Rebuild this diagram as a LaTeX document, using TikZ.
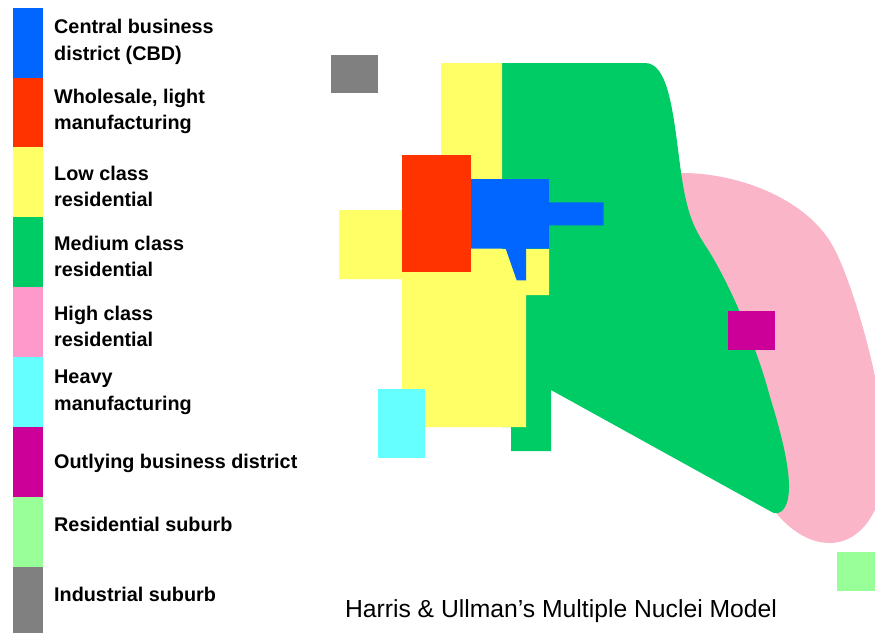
\documentclass[tikz,border=0pt]{standalone}
\usepackage{fontspec}
\setmainfont{Liberation Sans}
\definecolor{cbd}{HTML}{0066FF}
\definecolor{whl}{HTML}{FF3300}
\definecolor{low}{HTML}{FFFF66}
\definecolor{med}{HTML}{00CC66}
\definecolor{high}{HTML}{FF99CC}
\definecolor{highmap}{RGB}{250,182,200}
\definecolor{heavy}{HTML}{66FFFF}
\definecolor{obd}{HTML}{CC0099}
\definecolor{rsub}{HTML}{99FF99}
\definecolor{isub}{HTML}{808080}
\begin{document}
\begin{tikzpicture}[x=1pt,y=-1pt,
  leg/.style={anchor=base west,inner sep=0pt,font=\fontsize{19.8}{24}\selectfont\bfseries},
  ttl/.style={anchor=base,inner sep=0pt,font=\fontsize{24.7}{30}\selectfont}]
\useasboundingbox (0,0) rectangle (875,632);
\clip (0,0) rectangle (875,632);
% legend swatches
\fill[cbd]   (13,8)   rectangle (43,78);
\fill[whl]   (13,78)  rectangle (43,147);
\fill[low]   (13,147) rectangle (43,217);
\fill[med]   (13,217) rectangle (43,287);
\fill[high]  (13,287) rectangle (43,357);
\fill[heavy] (13,357) rectangle (43,427);
\fill[obd]   (13,427) rectangle (43,497);
\fill[rsub]  (13,497) rectangle (43,567);
\fill[isub]  (13,567) rectangle (43,640);
% legend texts
\node[leg] (l1a) at (54,33.5)  {Central business};
\node[leg] (l1b) at (54,60)    {district (CBD)};
\node[leg] (l2a) at (54,103.3) {Wholesale, light};
\node[leg] (l2b) at (54,129.3) {manufacturing};
\node[leg] (l3a) at (54,180)   {Low class};
\node[leg] (l3b) at (54,206.7) {residential};
\node[leg] (l4a) at (54,250)   {Medium class};
\node[leg] (l4b) at (54,276.7) {residential};
\node[leg] (l5a) at (54,320.5) {High class};
\node[leg] (l5b) at (54,346.7) {residential};
\node[leg] (l6a) at (54,383.3) {Heavy};
\node[leg] (l6b) at (54,410)   {manufacturing};
\node[leg] (l7)  at (54,468.3) {Outlying business district};
\node[leg] (l8)  at (54,531.7) {Residential suburb};
\node[leg] (l9)  at (54,601.7) {Industrial suburb};
% map: high class residential (behind)
\fill[highmap] (672,173) -- (682,173) .. controls (740,173) and (810,200) .. (835,250)
  .. controls (855,290) and (880,380) .. (885,440)
  .. controls (890,510) and (860,543) .. (830,543)
  .. controls (805,543) and (785,525) .. (772,508)
  -- (740,400) -- (680,250) -- cycle;
% medium class residential
\fill[med] (502,63) -- (645,63) .. controls (668,63) and (673,110) .. (680,165)
  .. controls (686,210) and (692,225) .. (705,245)
  .. controls (725,275) and (755,340) .. (770,397)
  .. controls (785,445) and (795,490) .. (785,507)
  .. controls (781,514) and (775,515) .. (770,511)
  -- (551,390) -- (551,451) -- (511,451) -- (511,427) -- (502,427) -- cycle;
% low class residential
\fill[low] (441,63) -- (502,63) -- (502,249) -- (549,249) -- (549,295)
  -- (526,295) -- (526,427) -- (402,427) -- (402,279) -- (339,279)
  -- (339,210) -- (402,210) -- (402,155) -- (441,155) -- cycle;
% wholesale, light manufacturing
\fill[whl] (402,155) rectangle (471,272);
% CBD
\fill[cbd] (471,179) -- (549,179) -- (549,202.3) -- (603.7,202.3) -- (603.7,225.3)
  -- (549,225.3) -- (549,248.7) -- (526,248.7) -- (526,280.3) -- (516.7,280.3)
  -- (505.7,248.7) -- (471,248.7) -- cycle;
% heavy manufacturing
\fill[heavy] (378.3,389) rectangle (425,458.3);
% outlying business district
\fill[obd] (728.3,311) rectangle (775.3,349.7);
% residential suburb
\fill[rsub] (837.3,552.3) rectangle (880,590.7);
% industrial suburb
\fill[isub] (331.3,54.7) rectangle (378.3,93.3);
% title
\node[ttl] (title) at (561,617.7) {Harris \& Ullman’s Multiple Nuclei Model};
\end{tikzpicture}
\end{document}
